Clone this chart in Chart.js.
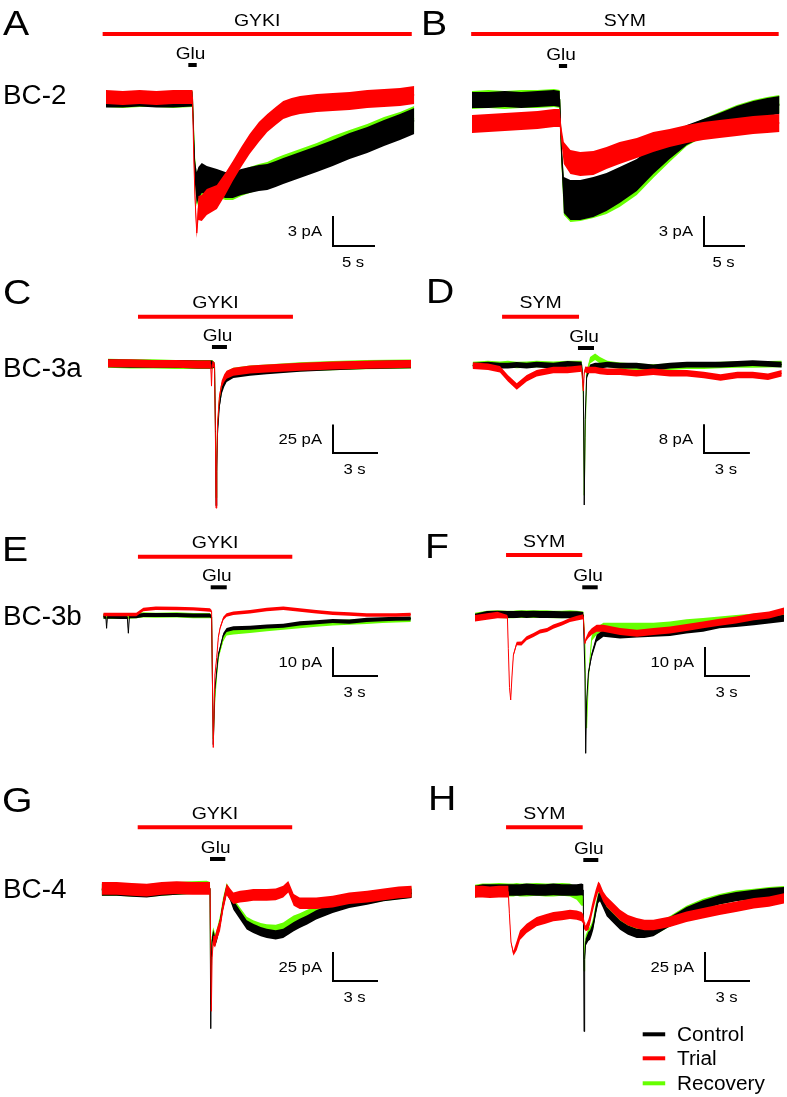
<!DOCTYPE html>
<html>
<head>
<meta charset="utf-8">
<script src="https://cdn.jsdelivr.net/npm/chart.js@4.4.1/dist/chart.umd.min.js"></script>
<style>
  html, body { margin: 0; padding: 0; background: #fff; }
  #figure { position: relative; width: 787px; height: 1097px; overflow: hidden; background: #fff; }
  #figure canvas { position: absolute; }
</style>
</head>
<body>
<div id="figure"></div>
<script>
// ---- data: time in s, current in pA, noise = half band in pA ----

const panelLetters = ["A", "B", "C", "D", "E", "F", "G", "H"];
const cellTypes = ["BC-2", "BC-3a", "BC-3b", "BC-4"];
const drugLabels = ["GYKI", "SYM", "GYKI", "SYM", "GYKI", "SYM", "GYKI", "SYM"];
const seriesNames = ["Control", "Trial", "Recovery"];

// drug / glutamate application windows (s)
const drugWindows = [[-0.4, 36.4], [-0.1, 37.4], [2.0, 12.33], [1.92, 6.95], [2.31, 12.6], [2.07, 7.15], [2.4, 12.7], [2.07, 7.18]];
const gluWindows = [[9.8, 10.8], [10.6, 11.6], [6.93, 7.93], [6.88, 7.93], [7.16, 8.23], [7.15, 8.18], [7.22, 8.24], [7.22, 8.22]];

// scale bars
const scaleSeconds = [5, 5, 3, 3, 3, 3, 3, 3];
const scalePA = [3, 3, 25, 8, 10, 10, 25, 25];

// A  BC-2 / GYKI
const A_time = [0, 2, 4, 6, 8, 10.3, 10.45, 10.6, 10.8, 11.0, 11.4, 12.0, 13.2, 14.2, 15.1, 16.1, 17.1, 18.2, 19.2, 20.2, 21.1, 22.1, 23.1, 25.1, 27.0, 29.0, 31.1, 33.1, 35.0, 36.7];
const A_control = [-0.2, -0.2, -0.1, -0.2, -0.2, -0.1, -4, -7.5, -9, -8.5, -8, -8.2, -8.4, -8.7, -8.7, -8.4, -8.2, -8.0, -7.9, -7.6, -7.3, -7.0, -6.7, -6.1, -5.5, -4.8, -4.2, -3.5, -2.9, -2.3];
const A_trial = [0.1, 0, 0.1, 0, 0.1, 0.1, -6, -10, -13.5, -11, -11, -10.4, -9.9, -8.6, -7.3, -5.9, -4.6, -3.4, -2.5, -1.8, -1.2, -0.9, -0.7, -0.5, -0.4, -0.3, -0.1, 0, 0.1, 0.3];
const A_recovery = [-0.1, -0.2, -0.1, -0.1, -0.2, -0.1, -3.5, -7.2, -9.2, -8.8, -8.3, -8.4, -8.6, -8.9, -8.9, -8.5, -8.2, -7.9, -7.7, -7.3, -7.0, -6.7, -6.4, -5.8, -5.1, -4.5, -3.9, -3.2, -2.7, -2.1];
const A_controlNoise = [0.75, 0.75, 0.75, 0.75, 0.75, 0.75, 0.4, 1.2, 1.6, 1.6, 1.5, 1.4, 1.3, 1.3, 1.3, 1.3, 1.3, 1.3, 1.3, 1.3, 1.3, 1.3, 1.3, 1.3, 1.3, 1.3, 1.3, 1.3, 1.3, 1.3];
const A_trialNoise = [0.7, 0.7, 0.7, 0.7, 0.7, 0.7, 0.4, 0.8, 0.5, 1.2, 1.3, 1.3, 1.2, 1.1, 1.0, 1.0, 1.0, 1.0, 0.9, 0.9, 0.9, 0.9, 0.9, 0.9, 0.9, 0.9, 0.9, 0.9, 0.9, 0.9];
const A_recoveryNoise = [0.8, 0.8, 0.8, 0.8, 0.8, 0.8, 0.4, 1.2, 1.6, 1.6, 1.5, 1.4, 1.3, 1.3, 1.3, 1.3, 1.3, 1.3, 1.3, 1.3, 1.3, 1.3, 1.3, 1.3, 1.3, 1.3, 1.3, 1.3, 1.3, 1.3];

// B  BC-2 / SYM
const B_time = [0, 2, 4, 6, 8, 10.0, 10.7, 10.9, 11.2, 12.0, 13.2, 14.8, 16.4, 18.0, 20.1, 22.1, 24.1, 26.2, 28.2, 30.2, 32.3, 34.3, 36.0, 37.5];
const B_control = [0, 0, 0.1, 0, 0.1, 0.2, 0.1, -5, -9.5, -10, -10, -9.7, -9.2, -8.5, -7.5, -6.0, -4.7, -3.5, -2.8, -2.2, -1.5, -1.0, -0.7, -0.5];
const B_trial = [-2.4, -2.3, -2.2, -2.1, -2.0, -1.8, -1.8, -3.5, -5.3, -6.2, -6.4, -6.3, -5.8, -5.3, -4.8, -4.2, -3.8, -3.4, -3.1, -2.9, -2.7, -2.5, -2.4, -2.3];
const B_recovery = [0, 0.1, 0, 0.1, 0.1, 0.2, 0.1, -5.3, -9.7, -10.2, -10.1, -9.8, -9.4, -8.8, -7.8, -6.3, -4.9, -3.6, -2.8, -2.1, -1.4, -0.9, -0.6, -0.4];
const B_controlNoise = [0.8, 0.8, 0.8, 0.8, 0.8, 0.8, 0.8, 1.0, 1.8, 2.0, 2.0, 2.0, 1.9, 1.8, 1.6, 1.4, 1.2, 1.0, 0.9, 0.9, 0.9, 0.9, 0.9, 0.9];
const B_trialNoise = [0.9, 0.9, 0.9, 0.9, 0.9, 0.9, 0.9, 0.8, 1.1, 1.2, 1.2, 1.2, 1.1, 1.1, 1.0, 1.0, 0.9, 0.9, 0.9, 0.9, 0.9, 0.9, 0.9, 0.9];
const B_recoveryNoise = [0.9, 0.9, 0.9, 0.9, 0.9, 0.9, 0.9, 1.0, 1.8, 2.0, 2.0, 2.0, 2.0, 1.9, 1.7, 1.5, 1.3, 1.0, 0.9, 0.9, 0.9, 0.9, 0.9, 0.9];

// C  BC-3a / GYKI
const C_time = [0, 1.5, 3, 4.5, 6, 6.85, 6.9, 6.95, 7.1, 7.16, 7.2, 7.25, 7.3, 7.42, 7.58, 7.75, 7.91, 8.36, 9.47, 10.58, 12.8, 15.0, 17.2, 20.2];
const C_control = [0, -0.3, -0.5, -0.5, -1, -1, -1, -1, -1.5, -55, -125, -95, -62, -38, -24, -17, -13, -9.5, -7.5, -6, -4, -2.5, -1.5, -0.8];
const C_trial = [0, 0, -0.5, -0.5, -1, -1, -20, -1, -1, -60, -127, -90, -54, -30, -18, -13, -10, -7.5, -5.5, -4.5, -3, -2, -1.2, -0.5];
const C_recovery = [0, -0.5, -0.5, -1, -1, -1, -1, -1, -1.5, -50, -118, -85, -55, -33, -21, -15, -11, -8, -6, -5, -3, -2, -1.2, -0.6];
const C_controlNoise = [3.5, 3.5, 3.5, 3.5, 3.5, 3.5, 3.5, 3.5, 2, 0.5, 0.5, 0.5, 1.5, 2.5, 3.0, 3.5, 3.5, 3.5, 3.5, 3.5, 3.5, 3.5, 3.5, 3.5];
const C_trialNoise = [3.5, 3.5, 3.5, 3.5, 3.5, 3.5, 0.5, 3, 2, 0.5, 0.5, 0.5, 1.5, 2.5, 3.0, 3.5, 3.5, 3.5, 3.5, 3.5, 3.5, 3.5, 3.5, 3.5];
const C_recoveryNoise = [4, 4, 4, 4, 4, 4, 4, 4, 2.5, 0.6, 0.6, 0.6, 1.5, 2.5, 3.5, 4, 4, 4, 4, 4, 4, 4, 4, 4];

// D  BC-3a / SYM
const D_time = [0, 1.0, 1.78, 2.3, 2.88, 3.53, 4.18, 5.27, 6.2, 7.12, 7.23, 7.29, 7.35, 7.45, 7.67, 8.0, 8.32, 8.8, 9.63, 10.7, 11.8, 12.9, 14.0, 15.1, 16.2, 17.3, 18.3, 19.3, 20.2];
const D_control = [0, 0.3, 0, 0, 0.2, 0, 0.3, 0, 0.5, 0.3, -5, -38.7, -15, -3, -0.5, 0, 0, 0.3, 0, 0, -0.5, 0, 0.3, 0.3, 0.3, 0.5, 0.7, 0.5, 0.3];
const D_trial = [0, -0.3, -1.0, -3.5, -5.8, -3.5, -2.1, -1.2, -1.2, -0.8, -7, -2, -1, -1.2, -1.2, -1.2, -1.5, -1.7, -1.7, -2.1, -1.7, -2.1, -2.1, -2.6, -3.3, -2.6, -2.6, -3.1, -2.1];
const D_recovery = [0.2, 0.5, 0.3, 0.5, 0.2, 0.3, 0.5, 0.3, 0.5, 0.5, -8, -36, -20, -2, 1.5, 2.5, 1.5, 0.5, 0, -0.3, -0.5, -0.3, 0, 0, 0.2, 0.3, 0.3, 0.4, 0.5];
const D_controlNoise = [0.8, 0.8, 0.8, 0.8, 0.8, 0.8, 0.8, 0.8, 0.8, 0.8, 0.3, 0.2, 0.3, 0.6, 0.8, 0.8, 0.8, 0.8, 0.8, 0.8, 0.8, 0.8, 0.8, 0.8, 0.8, 0.8, 0.8, 0.8, 0.8];
const D_trialNoise = [0.9, 0.9, 0.9, 0.9, 0.9, 0.9, 0.9, 0.9, 0.9, 0.9, 0.3, 0.5, 0.8, 0.9, 0.9, 0.9, 0.9, 0.9, 0.9, 0.9, 0.9, 0.9, 0.9, 0.9, 0.9, 0.9, 0.9, 0.9, 0.9];
const D_recoveryNoise = [0.9, 0.9, 0.9, 0.9, 0.9, 0.9, 0.9, 0.9, 0.9, 0.9, 0.3, 0.2, 0.3, 0.7, 0.9, 0.9, 0.9, 0.9, 0.9, 0.9, 0.9, 0.9, 0.9, 0.9, 0.9, 0.9, 0.9, 0.9, 0.9];

// E  BC-3b / GYKI
const E_time = [0, 0.17, 0.22, 0.27, 0.6, 1.2, 1.6, 1.67, 1.74, 2.2, 2.67, 3.5, 4.89, 6.0, 7.11, 7.22, 7.33, 7.44, 7.56, 7.67, 7.78, 8.0, 8.22, 8.67, 9.78, 10.9, 12.0, 13.1, 14.2, 15.3, 16.4, 17.56, 18.6, 19.5, 20.5];
const E_control = [0.1, 0.1, -3.9, 0.1, 0.1, 0, 0, -5.6, 0.3, 0.3, 0.7, 0.7, 0.7, 0.5, 0.5, 0, -44, -25, -18.6, -13, -10.8, -6.2, -4.5, -3.9, -3.7, -3.3, -3.0, -2.2, -1.8, -1.4, -1.6, -1.0, -0.8, -0.6, -0.5];
const E_trial = [0.9, 0.9, 0.9, 0.9, 0.9, 0.9, 0.9, 0.9, 0.9, 0.9, 2.6, 3.0, 2.9, 2.8, 2.4, 2.0, -45, -20, -14, -7, -3.9, -0.5, 0.7, 1.3, 1.8, 2.6, 3.0, 2.4, 1.8, 1.3, 1.0, 0.7, 0.7, 0.7, 0.9];
const E_recovery = [0.3, 0.3, 0.3, 0.3, 0.2, 0.2, 0.3, 0.3, 0.3, 0.5, 0.7, 0.6, 0.7, 0.5, 0.5, 0, -42, -28, -20, -14, -11.5, -7.5, -5.5, -5.1, -4.6, -4.0, -3.5, -3.0, -2.5, -2.0, -1.8, -1.5, -1.2, -1.0, -0.8];
const E_controlNoise = [0.7, 0.7, 0.2, 0.7, 0.7, 0.7, 0.7, 0.2, 0.7, 0.7, 0.7, 0.7, 0.7, 0.7, 0.7, 0.5, 0.2, 0.3, 0.5, 0.6, 0.7, 0.7, 0.7, 0.7, 0.7, 0.7, 0.7, 0.7, 0.7, 0.7, 0.7, 0.7, 0.7, 0.7, 0.7];
const E_trialNoise = [0.6, 0.6, 0.6, 0.6, 0.6, 0.6, 0.6, 0.6, 0.6, 0.6, 0.6, 0.6, 0.6, 0.6, 0.6, 0.4, 0.2, 0.3, 0.4, 0.5, 0.5, 0.6, 0.6, 0.6, 0.6, 0.6, 0.6, 0.6, 0.6, 0.6, 0.6, 0.6, 0.6, 0.6, 0.6];
const E_recoveryNoise = [0.9, 0.9, 0.9, 0.9, 0.9, 0.9, 0.9, 0.9, 0.9, 0.9, 0.9, 0.9, 0.9, 0.9, 0.9, 0.5, 0.2, 0.4, 0.6, 0.8, 0.9, 0.9, 0.9, 0.9, 0.9, 0.9, 0.9, 0.9, 0.9, 0.9, 0.9, 0.9, 0.9, 0.9, 0.9];

// F  BC-3b / SYM
const F_time = [0, 0.8, 1.5, 2.16, 2.22, 2.3, 2.38, 2.47, 2.56, 2.78, 3.1, 3.44, 3.9, 4.33, 4.8, 5.22, 5.8, 6.33, 6.8, 7.22, 7.33, 7.38, 7.44, 7.56, 7.78, 8.11, 8.56, 9.67, 10.8, 11.9, 13.0, 14.1, 15.2, 16.3, 17.4, 18.6, 19.6, 20.6];
const F_control = [-0.8, 0.2, 0.3, 0.2, 0.2, 0.2, 0.2, 0.2, 0.2, 0.2, 0.3, 0.2, 0.3, 0.2, 0.2, 0.2, 0.1, 0.1, 0.1, 0, -20, -47.7, -30, -20, -13.8, -8.0, -6.3, -6.9, -6.6, -6.3, -6.0, -5.2, -4.6, -3.4, -2.9, -2.3, -1.7, -1.1];
const F_trial = [-1.1, -0.5, 0, -0.6, -11.5, -25, -29.3, -20.7, -13.8, -9.8, -9.8, -8.0, -6.9, -5.7, -5.2, -4.0, -2.9, -1.7, -1.1, -0.6, -9.8, -8.6, -8.0, -6.9, -5.7, -4.6, -4.6, -5.7, -6.3, -5.7, -5.2, -4.3, -3.4, -2.5, -1.7, -0.6, 0, 1.4];
const F_recovery = [-0.5, 0.2, 0.3, 0.2, 0.2, 0.2, 0.2, 0.2, 0.2, 0.3, 0.3, 0.3, 0.3, 0.3, 0.3, 0.2, 0.2, 0.3, 0.2, 0.1, -10, -30, -39, -22, -8, -5.5, -4.0, -4.0, -4.0, -4.0, -3.5, -2.8, -2.3, -1.8, -1.3, -0.8, -0.4, 0.2];
const F_controlNoise = [1.2, 1.2, 1.2, 1.2, 1.2, 1.2, 1.2, 1.2, 1.2, 1.2, 1.2, 1.2, 1.2, 1.2, 1.2, 1.2, 1.2, 1.2, 1.2, 1.0, 0.3, 0.2, 0.3, 0.6, 0.9, 1.2, 1.2, 1.2, 1.2, 1.2, 1.2, 1.2, 1.2, 1.2, 1.2, 1.2, 1.2, 1.2];
const F_trialNoise = [1.1, 1.1, 1.1, 0.6, 0.2, 0.2, 0.2, 0.3, 0.4, 0.6, 0.7, 0.7, 0.7, 0.7, 0.7, 0.7, 0.7, 0.7, 0.8, 0.9, 0.4, 0.6, 0.8, 1.0, 1.1, 1.2, 1.2, 1.2, 1.2, 1.2, 1.2, 1.2, 1.2, 1.2, 1.2, 1.2, 1.2, 1.2];
const F_recoveryNoise = [1.3, 1.3, 1.3, 1.3, 1.3, 1.3, 1.3, 1.3, 1.3, 1.3, 1.3, 1.3, 1.3, 1.3, 1.3, 1.3, 1.3, 1.3, 1.3, 1.1, 0.4, 0.3, 0.3, 0.6, 1.0, 1.3, 1.3, 1.3, 1.3, 1.3, 1.3, 1.3, 1.3, 1.3, 1.3, 1.3, 1.3, 1.3];

// G  BC-4 / GYKI
const G_time = [0, 1, 2, 3, 4, 5, 6, 7.0, 7.22, 7.27, 7.31, 7.36, 7.44, 7.56, 7.67, 7.89, 8.1, 8.33, 8.55, 8.78, 9.22, 9.67, 10.1, 10.6, 11.0, 11.6, 12.1, 12.44, 12.8, 13.2, 13.7, 14.3, 15.4, 16.5, 17.7, 18.8, 19.8, 20.67];
const G_control = [-1.4, -1.4, -2.2, -2.9, -1.4, -0.5, 0, 0.5, 0, -121, -60, -45, -40, -46, -42, -30, -14, -1, -6, -14.4, -23, -31.6, -34.5, -37.4, -38.8, -40.2, -38.8, -36, -33, -30.2, -27.3, -23, -17.2, -12.9, -10.1, -7.2, -5.7, -4.3];
const G_trial = [0, 0, -1, -1.5, 0, 0.5, 0, 0, 0, -60, -106, -60, -45, -46, -40, -31.6, -14.4, -1, -5, -8.6, -7.2, -6.5, -5.7, -5.7, -5.7, -5.2, -2.9, 1.4, -10, -12.9, -12.9, -12.9, -11.5, -8.6, -7.2, -5.2, -3.5, -2.9];
const G_recovery = [-1, -1, -1.5, -2, -1, 0, 0.5, 1, 0, -100, -55, -42, -38, -44, -40, -28, -12, 0, -5, -13, -21, -29, -32, -34.5, -35.5, -36, -34, -31, -28, -26, -23, -20, -15, -11.5, -9, -6.5, -5, -3.5];
const G_controlNoise = [5, 5, 5, 5, 5, 5, 5, 5, 5, 0.5, 1.5, 3, 4, 4, 4, 4, 4, 4, 4, 4, 4, 4, 4, 4, 4, 4, 4, 4, 4, 4, 4, 4, 4, 4, 4, 4, 4, 4];
const G_trialNoise = [5.5, 5.5, 5.5, 5.5, 5.5, 5.5, 5.5, 5.5, 5.5, 1, 0.5, 2, 4, 5, 5, 5, 5, 5, 5, 5, 5, 5, 5, 5, 5, 5, 5, 5, 5, 5, 5, 5, 5, 5, 5, 5, 5, 5];
const G_recoveryNoise = [5.5, 5.5, 5.5, 5.5, 5.5, 5.5, 5.5, 5.5, 5.5, 0.8, 2, 3.5, 4.5, 4.5, 4.5, 4.5, 4.5, 4.5, 4.5, 4.5, 4.5, 4.5, 4.5, 4.5, 4.5, 4.5, 4.5, 4.5, 4.5, 4.5, 4.5, 4.5, 4.5, 4.5, 4.5, 4.5, 4.5, 4.5];

// H  BC-4 / SYM
const H_time = [0, 0.51, 1.0, 1.6, 2.22, 2.29, 2.4, 2.56, 2.78, 3.0, 3.44, 4.11, 4.7, 5.22, 5.8, 6.33, 6.78, 7.1, 7.22, 7.27, 7.31, 7.38, 7.56, 7.67, 7.78, 7.89, 8.05, 8.22, 8.33, 8.55, 8.78, 9.22, 9.67, 10.2, 10.78, 11.3, 11.89, 13.0, 14.1, 15.2, 16.3, 17.4, 18.6, 19.6, 20.6];
const H_control = [-1.4, 0, 0, 0, 0, 0, 0, 0, 0, 0, 0.5, 0, 0, 0.5, 0, 0, 0, 0.5, 0, -122, -60, -45, -40, -38.8, -35, -30, -18, -7.2, -5.7, -12, -18.7, -24.4, -30.2, -34.5, -37.4, -37.4, -35.9, -27.3, -18.7, -12.9, -8.6, -5.7, -3.7, -2.3, -1.4];
const H_trial = [-1.4, -1.4, -2, -1.4, -1.4, -20, -45, -54.6, -48, -39, -33, -27.3, -25, -23, -22, -21, -21.6, -23, -25, -28, -32, -33, -30, -25, -18, -12, -4, 2.9, 1, -5.7, -10, -15.8, -21.6, -26, -28.7, -30.2, -30.2, -27.3, -23, -20, -17, -14.4, -11.5, -10, -7.2];
const H_recovery = [-1, 0, 0, 0.5, 0, 0, 0, 0, 0.5, 0, 0, 0.5, 0, 0, 0.5, 0, -3, -8, -8, -70, -50, -42, -38, -36, -33, -28, -16, -6, -5, -10, -16, -22, -28, -32.5, -35.5, -36, -35, -27, -18, -12, -8, -5, -3.5, -2, -1];
const H_controlNoise = [5, 5, 5, 5, 5, 5, 5, 5, 5, 5, 5, 5, 5, 5, 5, 5, 5, 5, 5, 0.5, 1.5, 3, 4, 4, 4, 4, 4, 4, 4, 4, 4, 4, 4, 4, 4, 4, 4, 4, 4, 4, 4, 4, 4, 4, 4];
const H_trialNoise = [5, 5, 5, 5, 5, 1, 0.7, 2, 4, 4, 4, 4, 4, 4, 4, 4, 4, 4, 4, 3, 2, 2.5, 4.5, 4.5, 4.5, 4.5, 4.5, 4.5, 4.5, 4.5, 4.5, 4.5, 4.5, 4.5, 4.5, 4.5, 4.5, 4.5, 4.5, 4.5, 4.5, 4.5, 4.5, 4.5, 4.5];
const H_recoveryNoise = [5.5, 5.5, 5.5, 5.5, 5.5, 5.5, 5.5, 5.5, 5.5, 5.5, 5.5, 5.5, 5.5, 5.5, 5.5, 5.5, 5.5, 5.5, 5.5, 0.6, 2, 3.5, 4.5, 4.5, 4.5, 4.5, 4.5, 4.5, 4.5, 4.5, 4.5, 4.5, 4.5, 4.5, 4.5, 4.5, 4.5, 4.5, 4.5, 4.5, 4.5, 4.5, 4.5, 4.5, 4.5];

// ---- layout (page pixels) ----
const FONT = '"Liberation Sans", Arial, Helvetica, sans-serif';
const COLORS = { control: "#000000", trial: "#ff0000", recovery: "#66ff00" };

// box = cell [left, top, w, h]; origin = page px of (t = 0, I = 0)
const panels = [
    { box: [0, 0, 420, 275], origin: [106, 98], pxPerS: 8.4, pxPerPA: 10, drugY: 34, gluY: 65, corner: [333, 246], letterAt: [3, 35], cellAt: [3, 104],
      time: A_time, control: A_control, trial: A_trial, recovery: A_recovery, noise: [A_controlNoise, A_trialNoise, A_recoveryNoise] },
    { box: [420, 0, 367, 275], origin: [472, 100], pxPerS: 8.2, pxPerPA: 10, drugY: 34, gluY: 66, corner: [704, 246], letterAt: [421, 35],
      time: B_time, control: B_control, trial: B_trial, recovery: B_recovery, noise: [B_controlNoise, B_trialNoise, B_recoveryNoise] },
    { box: [0, 275, 420, 240], origin: [108, 363.3], pxPerS: 15, pxPerPA: 1.14, drugY: 316.7, gluY: 347, corner: [333, 453], letterAt: [3, 304], cellAt: [3, 377],
      time: C_time, control: C_control, trial: C_trial, recovery: C_recovery, noise: [C_controlNoise, C_trialNoise, C_recoveryNoise] },
    { box: [420, 275, 367, 240], origin: [472.7, 365.7], pxPerS: 15.3, pxPerPA: 3.6, drugY: 316.7, gluY: 348, corner: [704, 453], letterAt: [426, 303],
      time: D_time, control: D_control, trial: D_trial, recovery: D_recovery, noise: [D_controlNoise, D_trialNoise, D_recoveryNoise] },
    { box: [0, 515, 420, 240], origin: [103.3, 617], pxPerS: 15, pxPerPA: 2.9, drugY: 556.7, gluY: 587.3, corner: [333, 676], letterAt: [2, 561], cellAt: [3, 625],
      time: E_time, control: E_control, trial: E_trial, recovery: E_recovery, noise: [E_controlNoise, E_trialNoise, E_recoveryNoise] },
    { box: [420, 515, 367, 240], origin: [475, 615], pxPerS: 15, pxPerPA: 2.9, drugY: 555, gluY: 587.3, corner: [705, 676], letterAt: [425, 558],
      time: F_time, control: F_control, trial: F_trial, recovery: F_recovery, noise: [F_controlNoise, F_trialNoise, F_recoveryNoise] },
    { box: [0, 755, 420, 342], origin: [101.7, 888.3], pxPerS: 15, pxPerPA: 1.16, drugY: 827.3, gluY: 859, corner: [333, 981], letterAt: [2, 812], cellAt: [3, 898],
      time: G_time, control: G_control, trial: G_trial, recovery: G_recovery, noise: [G_controlNoise, G_trialNoise, G_recoveryNoise] },
    { box: [420, 755, 367, 342], origin: [475, 890], pxPerS: 15, pxPerPA: 1.16, drugY: 827.3, gluY: 860, corner: [705, 981], letterAt: [428, 810],
      time: H_time, control: H_control, trial: H_trial, recovery: H_recovery, noise: [H_controlNoise, H_trialNoise, H_recoveryNoise], legend: true }
];

// one trace = thin core line + filled noise band (upper fills down to lower)
function traceDatasets(time, values, noise, color) {
    return [
        { data: time.map((t, i) => ({ x: t, y: values[i] })), borderColor: color, borderWidth: 1, fill: false },
        { data: time.map((t, i) => ({ x: t, y: values[i] + noise[i] })), borderColor: "rgba(0,0,0,0)", borderWidth: 0, backgroundColor: color, fill: "+1" },
        { data: time.map((t, i) => ({ x: t, y: values[i] - noise[i] })), borderColor: "rgba(0,0,0,0)", borderWidth: 0, fill: false }
    ];
}

function putText(ctx, txt, x, y, size, align, stretch) {
    ctx.save();
    ctx.font = size + "px " + FONT;
    ctx.textAlign = align;
    ctx.textBaseline = "alphabetic";
    ctx.fillStyle = "#000";
    ctx.translate(x, y);
    ctx.scale(stretch, 1);
    ctx.fillText(txt, 0, 0);
    ctx.restore();
}

function textPlugin(p, idx) {
    return {
        id: "panelText" + idx,
        afterDraw(chart) {
            const ctx = chart.ctx;
            const xs = chart.scales.x, ys = chart.scales.y;
            const ox = p.box[0], oy = p.box[1];

            putText(ctx, panelLetters[idx], p.letterAt[0] - ox, p.letterAt[1] - oy, 35, "left", 1.12);
            if (p.cellAt) {
                putText(ctx, cellTypes[idx / 2], p.cellAt[0] - ox, p.cellAt[1] - oy, 27, "left", 1.03);
            }

            const drug = drugWindows[idx], glu = gluWindows[idx];
            const drugPx = ys.getPixelForValue(p.drugLevel);
            const gluPx = ys.getPixelForValue(p.gluLevel);
            putText(ctx, drugLabels[idx], xs.getPixelForValue((drug[0] + drug[1]) / 2), drugPx - 8.5, 16.5, "center", 1.18);
            putText(ctx, "Glu", xs.getPixelForValue((glu[0] + glu[1]) / 2) - 2, gluPx - 6.5, 17, "center", 1.12);

            const cx = xs.getPixelForValue(p.barT), cy = ys.getPixelForValue(p.barI);
            const topY = ys.getPixelForValue(p.barI + scalePA[idx]);
            const rightX = xs.getPixelForValue(p.barT + scaleSeconds[idx]);
            putText(ctx, scalePA[idx] + " pA", cx - 11, (topY + cy) / 2 + 5, 14.5, "right", 1.15);
            putText(ctx, scaleSeconds[idx] + " s", (cx + rightX) / 2 - 1, cy + 21, 14.5, "center", 1.15);

            if (p.legend) {
                const rows = [["control", 1034.3], ["trial", 1058.3], ["recovery", 1083.3]];
                rows.forEach(([key, y], k) => {
                    ctx.fillStyle = COLORS[key];
                    ctx.fillRect(642.7 - ox, y - oy - 2, 22.5, 4);
                    putText(ctx, seriesNames[k], 677 - ox, y - oy + 7, 20, "left", 1.04);
                });
            }
        }
    };
}

const figure = document.getElementById("figure");

panels.forEach((p, idx) => {
    const [left, top, w, h] = p.box;
    const [ox, oy] = p.origin;

    // data coordinates of the decorations
    p.drugLevel = (oy - p.drugY) / p.pxPerPA;
    p.gluLevel = (oy - p.gluY) / p.pxPerPA;
    p.barT = (p.corner[0] - ox) / p.pxPerS;
    p.barI = (oy - p.corner[1]) / p.pxPerPA;

    const canvas = document.createElement("canvas");
    canvas.width = w;
    canvas.height = h;
    canvas.style.left = left + "px";
    canvas.style.top = top + "px";
    canvas.style.width = w + "px";
    canvas.style.height = h + "px";
    figure.appendChild(canvas);

    const drug = drugWindows[idx], glu = gluWindows[idx];

    const datasets = [
        ...traceDatasets(p.time, p.trial, p.noise[1], COLORS.trial),
        ...traceDatasets(p.time, p.control, p.noise[0], COLORS.control),
        ...traceDatasets(p.time, p.recovery, p.noise[2], COLORS.recovery),
        { data: [{ x: drug[0], y: p.drugLevel }, { x: drug[1], y: p.drugLevel }], borderColor: COLORS.trial, borderWidth: 4, fill: false },
        { data: [{ x: glu[0], y: p.gluLevel }, { x: glu[1], y: p.gluLevel }], borderColor: "#000", borderWidth: 4, fill: false },
        {
            data: [
                { x: p.barT, y: p.barI + scalePA[idx] },
                { x: p.barT, y: p.barI },
                { x: p.barT + scaleSeconds[idx], y: p.barI }
            ],
            borderColor: "#000", borderWidth: 2, borderJoinStyle: "miter", fill: false
        }
    ];

    new Chart(canvas.getContext("2d"), {
        type: "line",
        data: { datasets },
        options: {
            responsive: false,
            maintainAspectRatio: false,
            devicePixelRatio: 1,
            animation: false,
            events: [],
            layout: { padding: 0 },
            elements: {
                point: { radius: 0, hitRadius: 0 },
                line: { tension: 0, borderCapStyle: "butt", borderJoinStyle: "round" }
            },
            plugins: { legend: { display: false }, tooltip: { enabled: false } },
            scales: {
                x: { type: "linear", display: false, min: (left - ox) / p.pxPerS, max: (left + w - ox) / p.pxPerS },
                y: { type: "linear", display: false, min: (oy - top - h) / p.pxPerPA, max: (oy - top) / p.pxPerPA }
            }
        },
        plugins: [textPlugin(p, idx)]
    });
});
</script>
</body>
</html>
